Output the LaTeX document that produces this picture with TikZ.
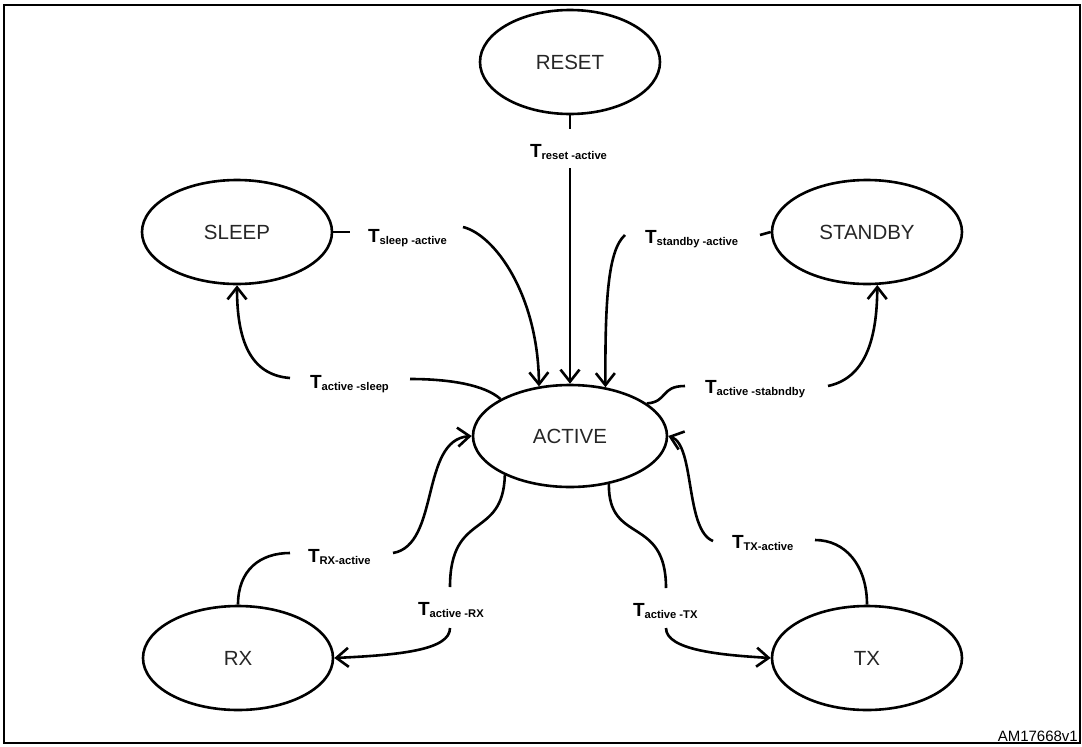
\documentclass[tikz,border=0pt]{standalone}
\usepackage{fontspec}
\setmainfont{Liberation Sans}
\usetikzlibrary{shapes.geometric,arrows.meta}
\tikzset{
  state/.style={ellipse, draw, line width=2.6pt, minimum width=190pt, minimum height=104pt,
    inner sep=0pt, text=black!85, font=\fontsize{20.5}{22}\selectfont},
  conn/.style={line width=2.6pt},
  arr/.style={conn, -{Straight Barb[length=12pt,width=19pt]}},
  lbl/.style={anchor=base west, inner sep=0pt, outer sep=0pt},
}
\newcommand{\tlbl}[1]{{\fontsize{19}{19}\selectfont\bfseries T}{\fontsize{11.2}{12}\selectfont\bfseries\raisebox{-2.5pt}{#1}}}
\begin{document}
\begin{tikzpicture}[x=1pt,y=-1pt]
\useasboundingbox (0,0) rectangle (1082,747);
\draw[line width=2.6pt] (4,5) rectangle (1080,743);

% states
\node[state, minimum width=180pt] (reset) at (570,62) {RESET};
\node[state] (sleep) at (237,232) {SLEEP};
\node[state] (standby) at (867,232) {STANDBY};
\node[state, minimum width=194pt, minimum height=102pt] (active) at (570,436) {ACTIVE};
\node[state] (rx) at (238,658) {RX};
\node[state] (tx) at (867,658) {TX};

% labels
\node[lbl] (lreset) at (530,157) {\tlbl{reset -active}};
\node[lbl] (lsleep) at (368,242) {\tlbl{sleep -active}};
\node[lbl] (lstandby) at (645,243) {\tlbl{standby -active}};
\node[lbl] (lasleep) at (310,388) {\tlbl{active -sleep}};
\node[lbl] (lastandby) at (705,393) {\tlbl{active -stabndby}};
\node[lbl] (lrxa) at (308,562) {\tlbl{RX-active}};
\node[lbl] (larx) at (418,615) {\tlbl{active -RX}};
\node[lbl] (latx) at (633,616) {\tlbl{active -TX}};
\node[lbl] (ltxa) at (732,548) {\tlbl{TX-active}};

\node[anchor=base east, inner sep=0pt, font=\fontsize{15}{16}\selectfont] (code) at (1078,741) {AM17668v1};

% gap end points
\coordinate (r1) at (570,129);
\coordinate (r2) at (570,168);
\coordinate (s1) at (350,232);
\coordinate (s2) at (463,227);
\coordinate (b1) at (760,235);
\coordinate (b2) at (625,235);
\coordinate (as1) at (410,379);
\coordinate (as2) at (290,378);
\coordinate (ab1) at (685,386);
\coordinate (ab2) at (828,386);
\coordinate (ra1) at (290,553);
\coordinate (ra2) at (393,553);
\coordinate (ar1) at (450,587);
\coordinate (ar2) at (450,628);
\coordinate (at1) at (666,588);
\coordinate (at2) at (666,628);
\coordinate (ta1) at (815,540);
\coordinate (ta2) at (713,541);

% RESET -> ACTIVE
\draw[conn] (reset.south) -- (r1);
\draw[arr] (r2) -- (active.north);
% SLEEP -> ACTIVE
\draw[conn] (sleep.east) -- (s1);
\draw[arr] (s2) .. controls (495,235) and (538,295) .. (active.122);
% STANDBY -> ACTIVE
\draw[conn] (standby.west) -- (b1);
\draw[arr] (b2) .. controls (608,250) and (605,300) .. (active.54);
% ACTIVE -> SLEEP
\draw[conn] (active.152) .. controls (485,385) and (450,379) .. (as1);
\draw[arr] (as2) .. controls (250,375) and (237,340) .. (sleep.south);
% ACTIVE -> STANDBY
\draw[conn] (active.23) .. controls (668,402) and (660,386) .. (ab1);
\draw[arr] (ab2) .. controls (865,378) and (877,340) .. (standby.281);
% RX -> ACTIVE
\draw[conn] (rx.north) .. controls (238,570) and (260,553) .. (ra1);
\draw[arr] (ra2) .. controls (440,545) and (420,440) .. (active.west);
% ACTIVE -> RX
\draw[conn] (active.211) .. controls (503,540) and (450,510) .. (ar1);
\draw[arr] (ar2) .. controls (450,650) and (400,655) .. (rx.east);
% ACTIVE -> TX
\draw[conn] (active.309) .. controls (608,545) and (666,515) .. (at1);
\draw[arr] (at2) .. controls (666,650) and (720,655) .. (tx.west);
% TX -> ACTIVE
\draw[conn] (tx.north) .. controls (867,565) and (845,540) .. (ta1);
\draw[arr] (ta2) .. controls (685,530) and (695,445) .. (active.east);
\end{tikzpicture}
\end{document}
